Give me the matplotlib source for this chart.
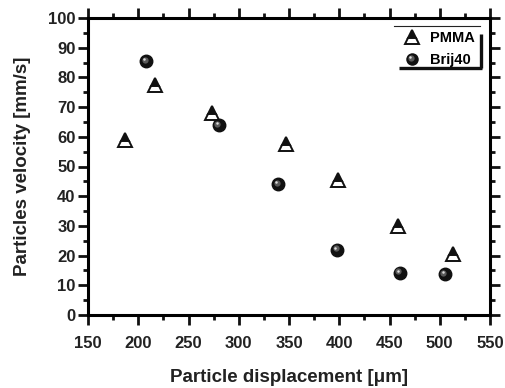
import matplotlib
matplotlib.use("Agg")
import matplotlib.pyplot as plt
from matplotlib.lines import Line2D
from matplotlib.legend_handler import HandlerLine2D
from matplotlib.transforms import offset_copy
from matplotlib.ticker import MultipleLocator

plt.rcParams['font.family'] = ['Liberation Sans', 'DejaVu Sans']
plt.rcParams['font.weight'] = 'bold'

# PMMA particles
pmma_x = [187, 217, 273, 347, 399, 458, 513]
pmma_v = [59, 77.5, 68, 57.5, 45.5, 30, 20.5]
# Brij40 particles
brij_x = [208, 280, 339, 398, 460, 505]
brij_v = [85.5, 64, 44, 22, 14.2, 13.8]

xlabel = "Particle displacement [\u03bcm]"
ylabel = "Particles velocity [mm/s]"

fig = plt.figure(figsize=(5.05, 3.88), dpi=100)
ax = fig.add_axes([88/505, 1 - 315/388, (490-88)/505, (315-18)/388])

ax.set_xlim(150, 550)
ax.set_ylim(0, 100)
ax.xaxis.set_major_locator(MultipleLocator(50))
ax.xaxis.set_minor_locator(MultipleLocator(25))
ax.yaxis.set_major_locator(MultipleLocator(10))
ax.yaxis.set_minor_locator(MultipleLocator(5))

for s in ax.spines.values():
    s.set_linewidth(2.2)
ax.tick_params(which='both', direction='out', top=True, right=True, width=2.0, colors='#111111')
ax.tick_params(which='major', length=7)
ax.tick_params(which='minor', length=3.6)
ax.tick_params(axis='x', which='major', labelsize=12, pad=8)
ax.tick_params(axis='y', which='major', labelsize=12, pad=2)
for lab in ax.get_xticklabels() + ax.get_yticklabels():
    lab.set_fontweight('bold')
    lab.set_color('#222222')

ax.set_xlabel(xlabel, fontsize=13.5, fontweight='bold', labelpad=13, color='#222222')
ax.set_ylabel(ylabel, fontsize=13.5, fontweight='bold', labelpad=12, color='#222222')

# half-filled triangles
tri_style = dict(marker='^', markersize=10, fillstyle='top', markerfacecolor='#111111',
                 markerfacecoloralt='white', markeredgecolor='#111111', markeredgewidth=1.4,
                 linestyle='none')
ax.plot(pmma_x, pmma_v, **tri_style, zorder=3)

# shaded spheres
hl1 = offset_copy(ax.transData, fig=fig, x=-1.4, y=1.4, units='dots')
hl2 = offset_copy(ax.transData, fig=fig, x=-2.0, y=2.0, units='dots')
ax.plot(brij_x, brij_v, marker='o', markersize=9, color='#111111', linestyle='none', zorder=3)
ax.plot(brij_x, brij_v, marker='o', markersize=4.5, color='#5a5a5a', markeredgewidth=0,
        linestyle='none', transform=hl1, zorder=4)
ax.plot(brij_x, brij_v, marker='o', markersize=1.8, color='#dddddd', markeredgewidth=0,
        linestyle='none', transform=hl2, zorder=5)


class SphereHandler(HandlerLine2D):
    def create_artists(self, legend, orig_handle, xdescent, ydescent, width, height,
                       fontsize, trans):
        artists = []
        for size, col, dx in [(9, '#111111', 0), (4.5, '#5a5a5a', -1.4), (1.8, '#dddddd', -2.0)]:
            h = Line2D([], [], marker='o', markersize=size, color=col, markeredgewidth=0,
                       linestyle='none')
            arts = super().create_artists(legend, h, xdescent, ydescent, width, height,
                                          fontsize, offset_copy(trans, fig=fig, x=dx, y=-dx,
                                                                units='dots'))
            artists.extend(arts)
        return artists


h_tri = Line2D([], [], **tri_style)
h_sph = Line2D([], [], marker='o', color='#111111', linestyle='none')
leg = ax.legend([h_tri, h_sph], ['PMMA', 'Brij40'], loc='upper right',
                bbox_to_anchor=(0.991, 0.995), frameon=False, handlelength=1.2,
                handletextpad=0.6, labelspacing=0.55, borderpad=0.3,
                prop={'weight': 'bold', 'size': 10.5},
                handler_map={h_sph: SphereHandler(numpoints=1), h_tri: HandlerLine2D(numpoints=1)})

# legend frame: thin top rule, heavy right and bottom edges
ax.add_line(Line2D([0.761, 0.975], [0.973, 0.973], transform=ax.transAxes, color='#222222',
                   linewidth=0.8, clip_on=False))
ax.add_line(Line2D([0.978, 0.978], [0.945, 0.830], transform=ax.transAxes, color='#111111',
                   linewidth=2.4, clip_on=False, solid_capstyle='butt'))
ax.add_line(Line2D([0.774, 0.981], [0.833, 0.833], transform=ax.transAxes, color='#111111',
                   linewidth=2.4, clip_on=False, solid_capstyle='butt'))

fig.savefig("out.png", dpi=100)
